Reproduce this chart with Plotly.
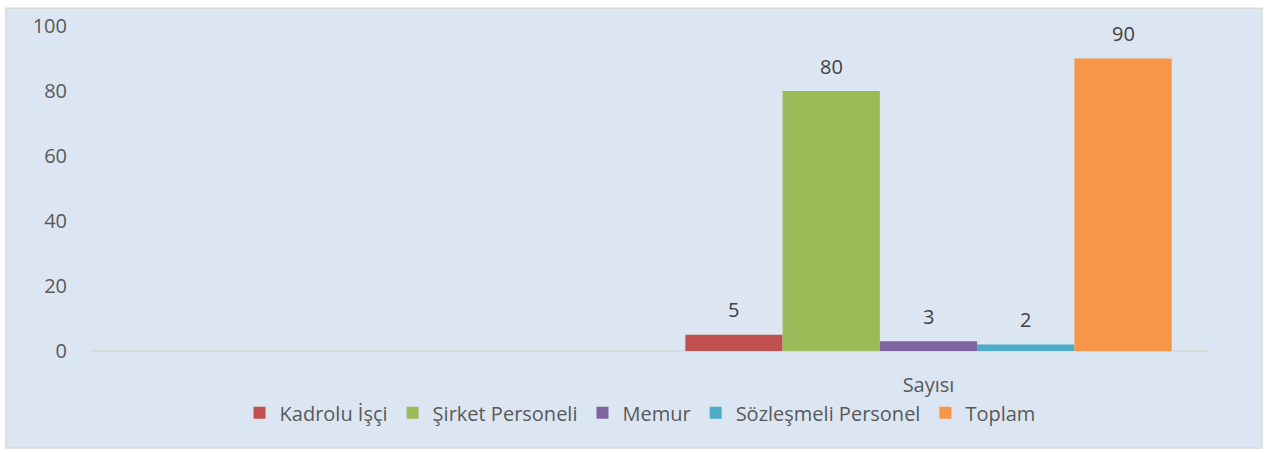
import plotly.graph_objects as go

categories = ["", "Sayısı"]
series_names = ["Kadrolu İşçi", "Şirket Personeli", "Memur", "Sözleşmeli Personel", "Toplam"]
kadrolu_isci = [None, 5]
sirket_personeli = [None, 80]
memur = [None, 3]
sozlesmeli_personel = [None, 2]
toplam = [None, 90]
series_values = [kadrolu_isci, sirket_personeli, memur, sozlesmeli_personel, toplam]
colors = ["#C0504D", "#9BBB59", "#8064A2", "#4BACC6", "#F79646"]
y_ticks = [0, 20, 40, 60, 80, 100]

FONT = "Open Sans, Liberation Sans, sans-serif"
FS = 20
BARGAP = 0.13

fig = go.Figure()
for name, vals, col in zip(series_names, series_values, colors):
    fig.add_trace(go.Bar(
        name=name, x=categories, y=vals, marker_color=col, marker_line_width=0,
    ))

# data labels above each bar, placed at the bar's group slot
n = len(series_names)
slot = (1 - BARGAP) / n
annotations = []
for i, vals in enumerate(series_values):
    for ci, v in enumerate(vals):
        if v is None:
            continue
        annotations.append(dict(
            x=ci + (i - (n - 1) / 2) * slot, y=v, xref="x", yref="y",
            text=str(v), showarrow=False, yanchor="middle", yshift=25,
            font=dict(family=FONT, size=FS, color="#404040"),
        ))

fig.update_layout(
    width=1268, height=453,
    margin=dict(l=90, r=60, t=24, b=102),
    paper_bgcolor="white", plot_bgcolor="rgba(0,0,0,0)",
    barmode="group", bargap=BARGAP, bargroupgap=0,
    font=dict(family=FONT, size=FS, color="#595959"),
    showlegend=True,
    legend=dict(orientation="h", x=0.492, xanchor="center", y=-0.19, yanchor="middle",
                font=dict(family=FONT, size=FS, color="#595959"), bgcolor="rgba(0,0,0,0)",
                itemwidth=30, tracegroupgap=0),
    xaxis=dict(type="category", categoryorder="array", categoryarray=categories,
               range=[-0.5, 1.5], showgrid=False, showline=False, ticks="",
               ticklabelstandoff=20, tickfont=dict(family=FONT, size=FS, color="#595959")),
    yaxis=dict(range=[0, 100], tickvals=y_ticks, showgrid=False, zeroline=True,
               zerolinecolor="#D9D9D9", zerolinewidth=1.5, showline=False, ticks="",
               ticklabelstandoff=22, tickfont=dict(family=FONT, size=FS, color="#595959")),
    annotations=annotations,
    shapes=[dict(type="rect", xref="paper", yref="paper", layer="below",
                 x0=-0.0751, x1=1.0483, y0=-0.2988, y1=1.0548,
                 fillcolor="#DCE6F2", line=dict(color="#D9D9D9", width=1.5))],
)

fig.write_html("out.html", config={"displayModeBar": False},
               post_script="document.body.style.margin='0px';")
